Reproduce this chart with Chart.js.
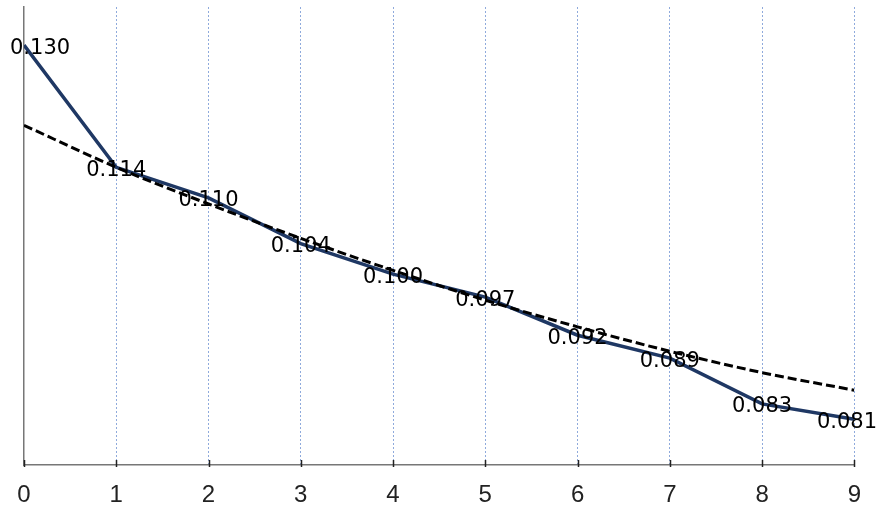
<!DOCTYPE html>
<html>
<head>
<meta charset="utf-8">
<script src="https://cdn.jsdelivr.net/npm/chart.js@4/dist/chart.umd.min.js"></script>
<style>
  html, body { margin: 0; padding: 0; background: #fff; }
  #wrap { width: 877px; height: 510px; }
</style>
</head>
<body>
<div id="wrap"><canvas id="chart" width="877" height="510"></canvas></div>
<script>
// valores
const xs = [0, 1, 2, 3, 4, 5, 6, 7, 8, 9];
const valores = [0.130, 0.114, 0.110, 0.104, 0.100, 0.097, 0.092, 0.089, 0.083, 0.081];
const tendencia = [0.1195, 0.1140, 0.1092, 0.1047, 0.1005, 0.0966, 0.0931, 0.0899, 0.0871, 0.0848];
const rotulos = ['0.130', '0.114', '0.110', '0.104', '0.100', '0.097', '0.092', '0.089', '0.083', '0.081'];

// rótulos de dados centrados nos pontos (sem plugin externo)
const labelsPlugin = {
  id: 'labelsPlugin',
  afterDatasetsDraw(chart) {
    const ctx = chart.ctx;
    const meta = chart.getDatasetMeta(0);
    ctx.save();
    ctx.font = '21px "DejaVu Sans", sans-serif';
    ctx.fillStyle = '#000';
    ctx.textBaseline = 'middle';
    ctx.textAlign = 'left';
    meta.data.forEach((pt, i) => {
      const txt = rotulos[i];
      const w = ctx.measureText(txt).width;
      let x = pt.x - w / 2;
      x = Math.max(10, Math.min(chart.width - w, x));
      ctx.fillText(txt, x, pt.y + 3);
    });
    ctx.restore();
  }
};

// marcas do eixo x (para dentro)
const ticksPlugin = {
  id: 'ticksPlugin',
  afterDraw(chart) {
    const ctx = chart.ctx;
    const sx = chart.scales.x;
    const bottom = chart.chartArea.bottom;
    ctx.save();
    ctx.strokeStyle = '#222';
    ctx.lineWidth = 1.5;
    sx.ticks.forEach((t) => {
      const px = Math.round(sx.getPixelForValue(t.value)) + 0.5;
      ctx.beginPath();
      ctx.moveTo(px, bottom - 5);
      ctx.lineTo(px, bottom + 2);
      ctx.stroke();
    });
    ctx.restore();
  }
};

new Chart(document.getElementById('chart'), {
  type: 'line',
  data: {
    datasets: [
      {
        label: 'valores',
        data: xs.map((x, i) => ({ x, y: valores[i] })),
        borderColor: '#1F3864',
        borderWidth: 3.5,
        pointRadius: 0,
        tension: 0,
        order: 1
      },
      {
        label: 'tendência',
        data: xs.map((x, i) => ({ x, y: tendencia[i] })),
        borderColor: '#000',
        borderWidth: 3,
        borderDash: [9, 4],
        pointRadius: 0,
        cubicInterpolationMode: 'monotone',
        order: 0
      }
    ]
  },
  options: {
    responsive: false,
    animation: false,
    layout: { padding: { left: 24, right: 20, top: 7, bottom: 0 } },
    plugins: { legend: { display: false }, tooltip: { enabled: false } },
    scales: {
      x: {
        type: 'linear',
        min: 0,
        max: 9,
        afterFit: (s) => { s.height = 45; },
        border: { display: true, color: '#777', width: 1.5, dash: [2, 2] },
        grid: {
          drawTicks: false,
          color: (c) => (c.tick && c.tick.value === 0 ? 'rgba(0,0,0,0)' : '#8FAADC'),
          lineWidth: 1
        },
        ticks: {
          stepSize: 1,
          padding: 16,
          color: '#222',
          font: { family: '"Liberation Sans", sans-serif', size: 24 }
        }
      },
      y: {
        min: 0.075,
        max: 0.135,
        border: { display: true, color: '#777', width: 1.5 },
        grid: { display: false, drawTicks: false },
        ticks: { display: false }
      }
    }
  },
  plugins: [labelsPlugin, ticksPlugin]
});
</script>
</body>
</html>
